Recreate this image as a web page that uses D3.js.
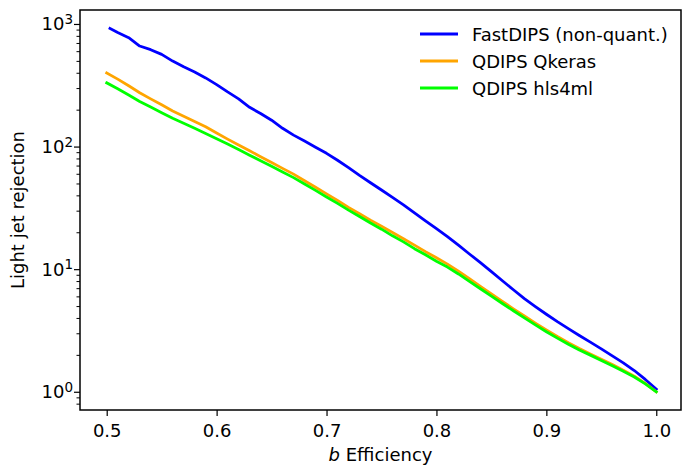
<!DOCTYPE html>
<html>
<head>
<meta charset="utf-8">
<script src="https://cdn.jsdelivr.net/npm/d3@7/dist/d3.min.js"></script>
<style>
  html, body { margin: 0; padding: 0; background: #fff; }
  svg { display: block; font-family: "DejaVu Sans", sans-serif; }
</style>
</head>
<body>
<svg id="chart" width="683" height="465"></svg>
<script>
// ---- data ----
const effBlue = [0.503, 0.51, 0.52, 0.53, 0.54, 0.55, 0.56, 0.57, 0.58, 0.59, 0.60, 0.61, 0.62, 0.63, 0.64, 0.65, 0.66, 0.67, 0.68, 0.69, 0.70, 0.71, 0.72, 0.73, 0.74, 0.75, 0.76, 0.77, 0.78, 0.79, 0.80, 0.81, 0.82, 0.83, 0.84, 0.85, 0.86, 0.87, 0.88, 0.89, 0.90, 0.91, 0.92, 0.93, 0.94, 0.95, 0.96, 0.97, 0.98, 0.99, 1.00];
const fastDIPS = [920, 851, 773, 661, 617, 565, 498, 447, 406, 363, 320, 279, 245, 209, 186, 164, 141, 124, 111, 98.9, 88.1, 77.3, 67.3, 58.2, 50.7, 44.2, 38.5, 33.5, 28.8, 24.8, 21.4, 18.4, 15.7, 13.3, 11.3, 9.55, 8.04, 6.79, 5.75, 4.95, 4.29, 3.73, 3.27, 2.88, 2.54, 2.24, 1.96, 1.72, 1.49, 1.26, 1.05];

const effQ = [0.50, 0.51, 0.52, 0.53, 0.54, 0.55, 0.56, 0.57, 0.58, 0.59, 0.60, 0.61, 0.62, 0.63, 0.64, 0.65, 0.66, 0.67, 0.68, 0.69, 0.70, 0.71, 0.72, 0.73, 0.74, 0.75, 0.76, 0.77, 0.78, 0.79, 0.80, 0.81, 0.82, 0.83, 0.84, 0.85, 0.86, 0.87, 0.88, 0.89, 0.90, 0.91, 0.92, 0.93, 0.94, 0.95, 0.96, 0.97, 0.98, 0.99, 1.00];
const qdipsQkeras = [398, 355, 313, 275, 245, 219, 195, 177, 160, 145, 129, 115, 103, 92.3, 82.6, 74.1, 66.4, 59.6, 52.7, 46.6, 41.1, 36.3, 31.9, 28.3, 25.1, 22.4, 19.9, 17.7, 15.7, 13.9, 12.4, 11.0, 9.62, 8.36, 7.24, 6.28, 5.46, 4.75, 4.15, 3.63, 3.19, 2.82, 2.51, 2.25, 2.03, 1.84, 1.67, 1.50, 1.34, 1.17, 1.0];
const qdipsHls4ml = [331, 296, 263, 233, 210, 189, 170, 155, 141, 128, 116, 105, 94.8, 85.1, 76.7, 69.2, 62.1, 55.8, 49.5, 43.9, 38.8, 34.4, 30.3, 26.9, 23.8, 21.2, 18.7, 16.7, 14.7, 13.1, 11.6, 10.4, 9.14, 7.94, 6.92, 6.03, 5.25, 4.58, 4.01, 3.51, 3.09, 2.74, 2.44, 2.19, 1.99, 1.80, 1.63, 1.47, 1.32, 1.16, 1.0];

const seriesNames = ["FastDIPS (non-quant.)", "QDIPS Qkeras", "QDIPS hls4ml"];
const seriesColors = ["#0000ff", "#ffa500", "#00ff00"];
const xTicks = [0.5, 0.6, 0.7, 0.8, 0.9, 1.0];
const yTickExps = [0, 1, 2, 3];

// ---- layout ----
const svg = d3.select("#chart");
const L = 80, R = 681, T = 10, B = 410;
const FS = 18;

const x = d3.scaleLinear().domain([0.4757, 1.0225]).range([L, R]);
const y = d3.scaleLog().domain([0.71, 1300]).range([B, T]);

// lines
const series = [
  { name: seriesNames[0], color: seriesColors[0], xs: effBlue, ys: fastDIPS },
  { name: seriesNames[1], color: seriesColors[1], xs: effQ, ys: qdipsQkeras },
  { name: seriesNames[2], color: seriesColors[2], xs: effQ, ys: qdipsHls4ml }
];
const line = d3.line().x(d => x(d[0])).y(d => y(d[1]));
const plot = svg.append("g");
series.forEach(s => {
  plot.append("path")
    .datum(s.xs.map((v, i) => [v, s.ys[i]]))
    .attr("d", line)
    .attr("fill", "none")
    .attr("stroke", s.color)
    .attr("stroke-width", 2.8)
    .attr("stroke-linejoin", "round")
    .attr("stroke-linecap", "square");
});

// x axis
const xAxis = d3.axisBottom(x).tickValues(xTicks).tickFormat(d3.format(".1f"))
  .tickSizeInner(6).tickSizeOuter(0).tickPadding(8.5);
const gx = svg.append("g").attr("transform", `translate(0,${B})`).call(xAxis);
gx.select(".domain").remove();
gx.selectAll(".tick line").attr("stroke", "#000").attr("stroke-width", 1.2);
gx.selectAll(".tick text").attr("font-size", FS).attr("fill", "#000")
  .attr("font-family", "DejaVu Sans");

// y axis: minor ticks
const minorVals = [];
[-1, 0, 1, 2, 3].forEach(e => { for (let m = 2; m <= 9; m++) { const v = m * Math.pow(10, e); if (v >= 0.71 && v <= 1300) minorVals.push(v); } });
const yMinor = d3.axisLeft(y).tickValues(minorVals).tickFormat("").tickSizeInner(3.5).tickSizeOuter(0);
const gyMinor = svg.append("g").attr("transform", `translate(${L},0)`).call(yMinor);
gyMinor.select(".domain").remove();
gyMinor.selectAll(".tick line").attr("stroke", "#000").attr("stroke-width", 1);

const yMajor = d3.axisLeft(y).tickValues(yTickExps.map(e => Math.pow(10, e))).tickFormat("")
  .tickSizeInner(6).tickSizeOuter(0);
const gy = svg.append("g").attr("transform", `translate(${L},0)`).call(yMajor);
gy.select(".domain").remove();
gy.selectAll(".tick line").attr("stroke", "#000").attr("stroke-width", 1.2);
yTickExps.forEach(e => {
  const t = svg.append("text")
    .attr("x", L - 7).attr("y", y(Math.pow(10, e)) + 6.5)
    .attr("text-anchor", "end").attr("font-size", FS).attr("fill", "#000");
  t.append("tspan").text("10");
  t.append("tspan").attr("dy", -6.5).attr("font-size", 13.5).text(String(e));
});

// frame
svg.append("rect").attr("x", L).attr("y", T).attr("width", R - L).attr("height", B - T)
  .attr("fill", "none").attr("stroke", "#000").attr("stroke-width", 1.5);

// axis labels
const xl = svg.append("text").attr("x", (L + R) / 2).attr("y", 461)
  .attr("text-anchor", "middle").attr("font-size", FS).attr("fill", "#000");
xl.append("tspan").attr("font-style", "italic").text("b");
xl.append("tspan").text(" Efficiency");

svg.append("text").attr("transform", `translate(24,${(T + B) / 2}) rotate(-90)`)
  .attr("text-anchor", "middle").attr("font-size", FS).attr("fill", "#000")
  .text("Light jet rejection");

// legend
const lg = svg.append("g");
series.forEach((s, i) => {
  const yy = 34 + i * 27;
  lg.append("line").attr("x1", 420).attr("x2", 458).attr("y1", yy).attr("y2", yy)
    .attr("stroke", s.color).attr("stroke-width", 2.8);
  lg.append("text").attr("x", 472).attr("y", yy + 7).attr("font-size", FS).attr("fill", "#000")
    .text(s.name);
});
</script>
</body>
</html>
